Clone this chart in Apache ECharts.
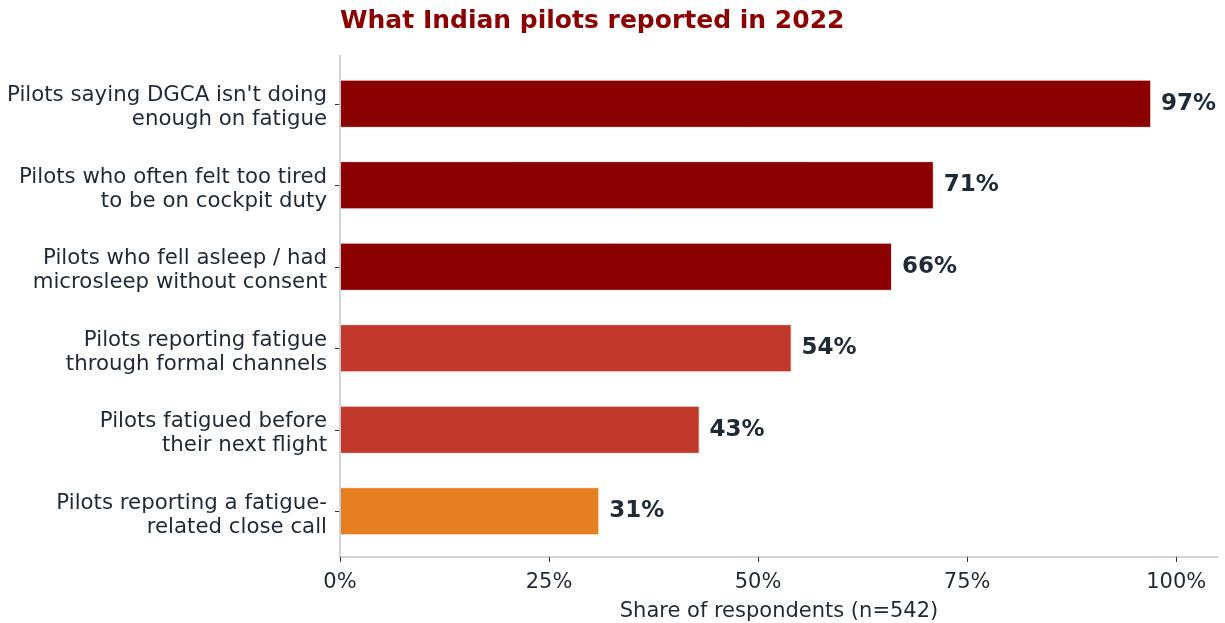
<!DOCTYPE html>
<html><head><meta charset="utf-8">
<script src="https://cdn.jsdelivr.net/npm/echarts@6/dist/echarts.min.js"></script>
<style>html,body{margin:0;padding:0;background:#fff}#c{width:1225px;height:623px}</style>
</head><body><div id="c"></div>
<script>
const categories = [
  "Pilots saying DGCA isn't doing\nenough on fatigue",
  "Pilots who often felt too tired\nto be on cockpit duty",
  "Pilots who fell asleep / had\nmicrosleep without consent",
  "Pilots reporting fatigue\nthrough formal channels",
  "Pilots fatigued before\ntheir next flight",
  "Pilots reporting a fatigue-\nrelated close call"
];
const values = [97, 71, 66, 54, 43, 31];
const barColors = ["#8B0000", "#8B0000", "#8B0000", "#C0392B", "#C0392B", "#E67E22"];
const xTicks = [0, 25, 50, 75, 100];

const textColor = "#1f2a36";
const font = "DejaVu Sans";
const chart = echarts.init(document.getElementById('c'), null, {renderer: 'canvas'});
const cats = categories.slice().reverse();
const vals = values.slice().reverse();
const cols = barColors.slice().reverse();

chart.setOption({
  animation: false,
  backgroundColor: '#ffffff',
  title: {
    text: 'What Indian pilots reported in 2022',
    left: 335, top: 4,
    textStyle: {color: '#8B0000', fontFamily: font, fontWeight: 'bold', fontSize: 25}
  },
  grid: {left: 340, right: 7, top: 63, bottom: 71, containLabel: false, outerBoundsMode: 'none'},
  xAxis: {
    type: 'value', min: 0, max: 105, interval: 25, offset: 5,
    axisLine: {show: true, lineStyle: {color: '#c0c6cc', width: 1.5}},
    axisTick: {show: true, length: 5, lineStyle: {color: '#333', width: 1}},
    splitLine: {show: false},
    axisLabel: {
      color: textColor, fontFamily: font, fontSize: 21, margin: 15,
      formatter: v => xTicks.includes(v) ? v + '%' : '',
      showMaxLabel: false
    },
    name: 'Share of respondents (n=542)', nameLocation: 'middle', nameGap: 44,
    nameTextStyle: {color: textColor, fontFamily: font, fontSize: 21}
  },
  yAxis: {
    type: 'category', data: cats,
    axisLine: {show: false},
    axisTick: {show: true, alignWithLabel: true, length: 5, lineStyle: {color: '#333'}},
    axisLabel: {
      margin: 13, align: 'right',
      formatter: v => '{s| }\n' + v.split('\n').map(l => '{a|' + l + '}').join('\n'),
      rich: {
        s: {fontSize: 4, lineHeight: 8, align: 'right'},
        a: {color: textColor, fontFamily: font, fontSize: 21.3, lineHeight: 24, align: 'right'}
      }
    }
  },
  series: [{
    type: 'bar',
    data: vals.map((v, i) => ({value: v, itemStyle: {color: cols[i]}})),
    barWidth: 48,
    itemStyle: {borderColor: '#ffffff', borderWidth: 0.8},
    label: {
      show: true, position: 'right', distance: 10,
      formatter: p => p.value + '%',
      color: textColor, fontFamily: font, fontWeight: 'bold', fontSize: 23
    }
  }],
  graphic: [{
    type: 'line', shape: {x1: 340, y1: 55, x2: 340, y2: 557},
    style: {stroke: '#c0c6cc', lineWidth: 1.5}, z: 10
  }]
});
</script></body></html>
